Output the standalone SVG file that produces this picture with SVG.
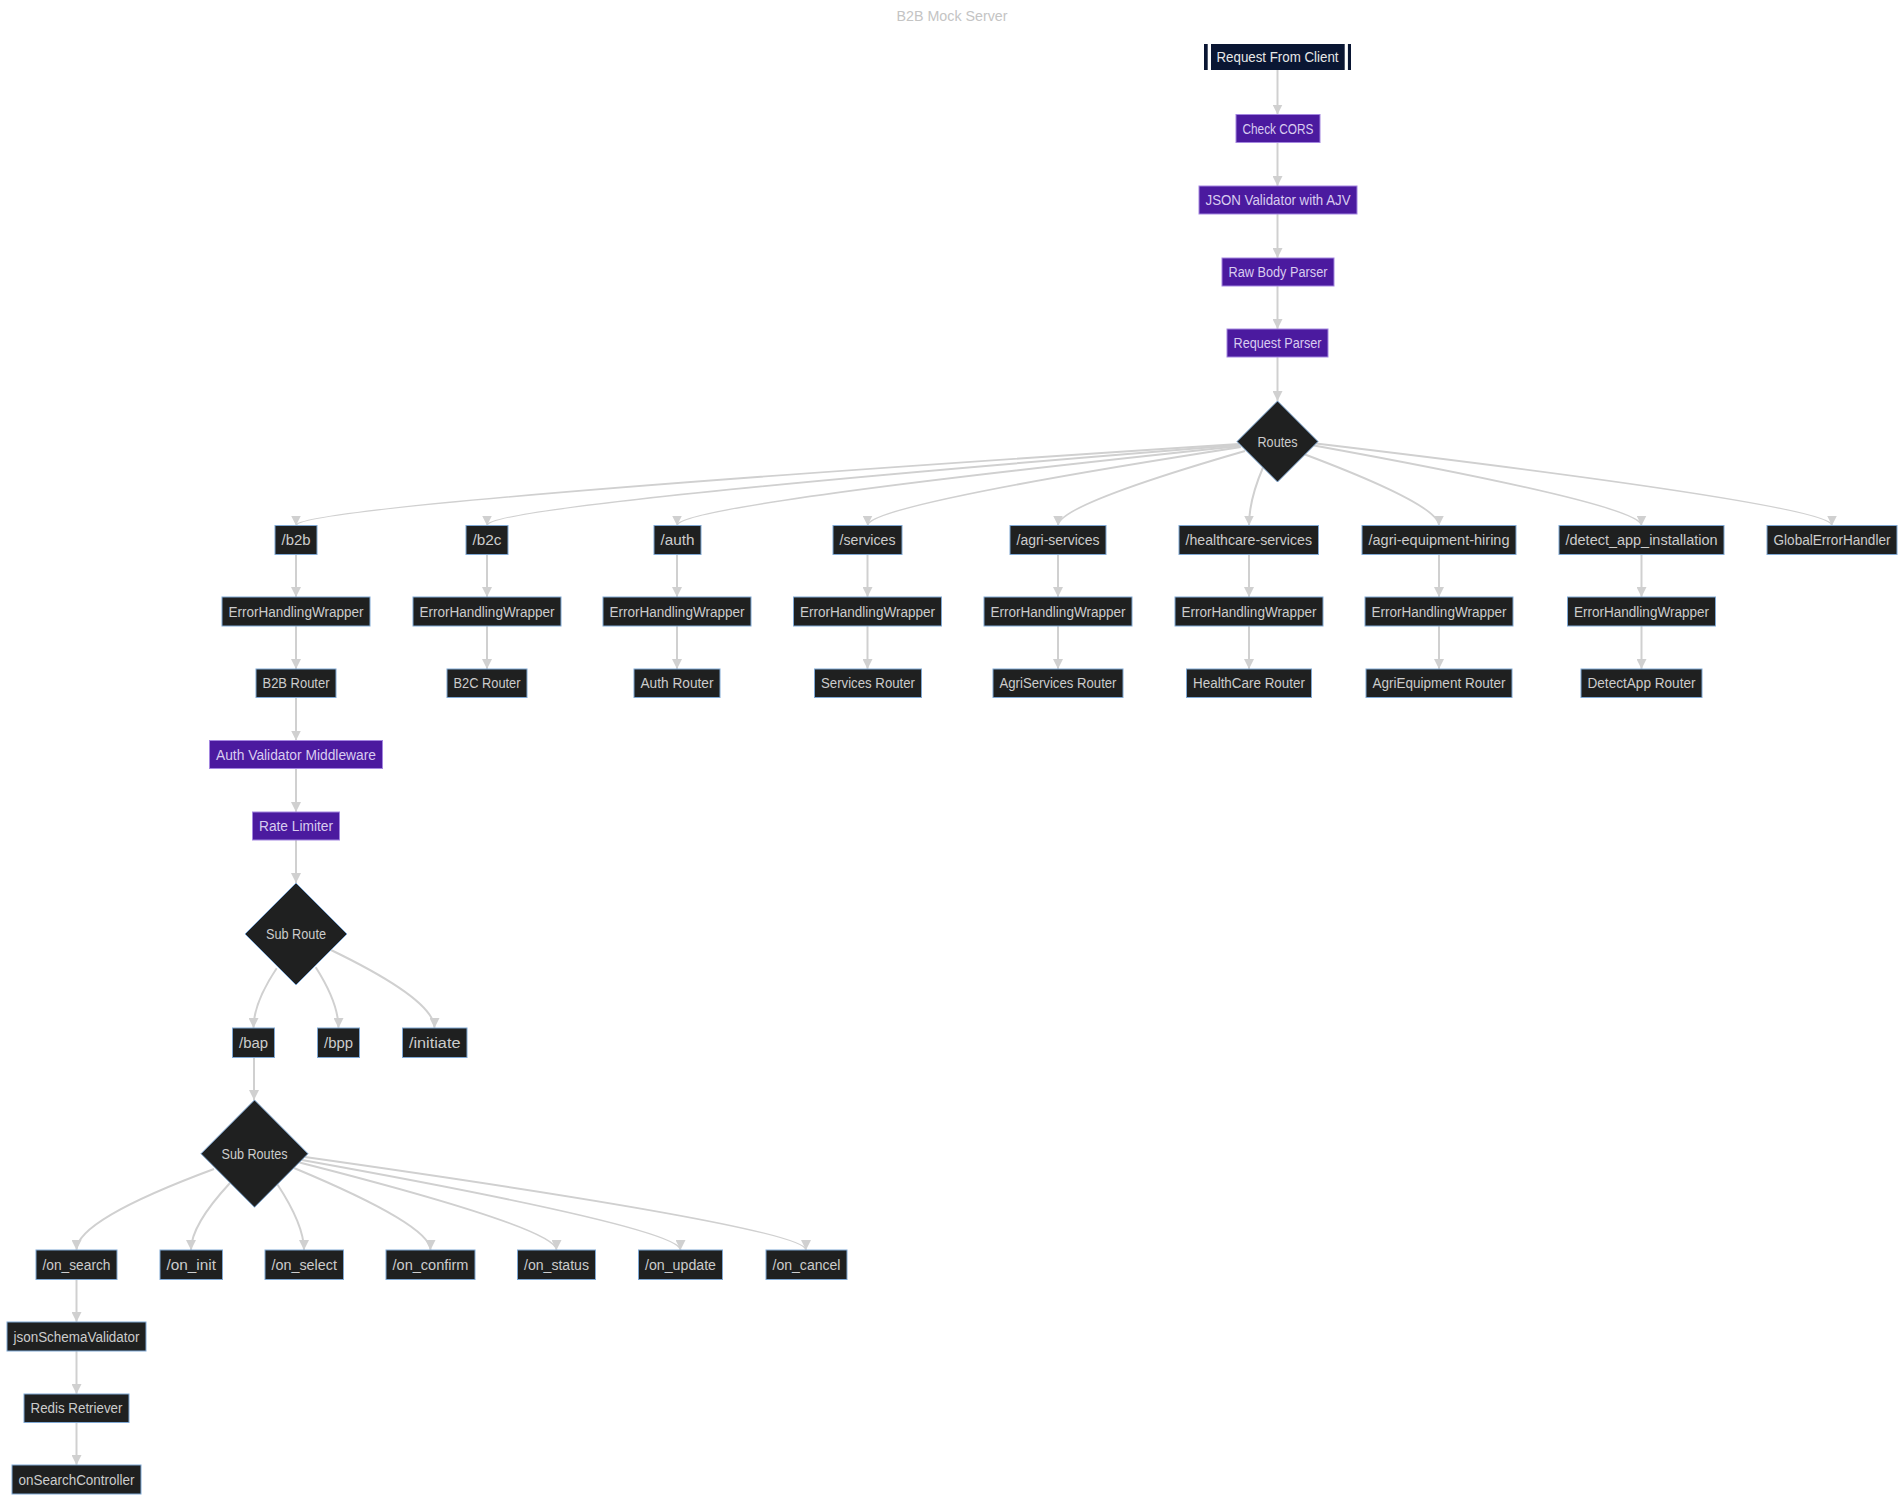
<svg xmlns="http://www.w3.org/2000/svg" width="1904" height="1501" viewBox="0 0 1904 1501">
<style>
text{font-family:"Liberation Sans",Arial,sans-serif;font-size:14px;text-anchor:middle}
.title{fill:#c4c4c4}
.d rect,.d polygon{fill:#1f2020;stroke:#7fa8d4;stroke-width:1}
.d text{fill:#cccccc}
.p rect{fill:#4b1a9f;stroke:#a386e0;stroke-width:1}
.p text{fill:#d9ccf0}
.e{fill:none;stroke:#d0d0d0;stroke-width:2;marker-end:url(#arr)}
</style>
<defs>
<marker id="arr" viewBox="0 0 10 10" refX="10" refY="5" markerWidth="10" markerHeight="10" markerUnits="userSpaceOnUse" orient="auto">
<path d="M0,0 L10,5 L0,10 z" fill="#d0d0d0"/>
</marker>
</defs>
<rect width="1904" height="1501" fill="#ffffff"/>
<text class="title" x="952" y="20.5" textLength="111" lengthAdjust="spacingAndGlyphs">B2B Mock Server</text>

<g id="edges">
<path class="e" d="M1277.5,70 L1277.5,114.5"/>
<path class="e" d="M1277.5,142 L1277.5,186"/>
<path class="e" d="M1277.5,214 L1277.5,258"/>
<path class="e" d="M1277.5,286 L1277.5,329"/>
<path class="e" d="M1277.5,357 L1277.5,401"/>
<path class="e" d="M1239,444 Q296,505 296,525.5"/>
<path class="e" d="M1239,445 Q487,505 487,525.5"/>
<path class="e" d="M1240,446 Q677,505 677,525.5"/>
<path class="e" d="M1241,447 Q867.5,505 867.5,525.5"/>
<path class="e" d="M1245,451 Q1058,505 1058,525.5"/>
<path class="e" d="M1263,467.5 Q1249,500 1249,525.5"/>
<path class="e" d="M1305,454.5 Q1439,505 1439,525.5"/>
<path class="e" d="M1314,445.5 Q1641.5,505 1641.5,525.5"/>
<path class="e" d="M1316,443.5 Q1832,505 1832,525.5"/>
<path class="e" d="M296,554.5 L296,597"/>
<path class="e" d="M487,554.5 L487,597"/>
<path class="e" d="M677,554.5 L677,597"/>
<path class="e" d="M867.5,554.5 L867.5,597"/>
<path class="e" d="M1058,554.5 L1058,597"/>
<path class="e" d="M1249,554.5 L1249,597"/>
<path class="e" d="M1439,554.5 L1439,597"/>
<path class="e" d="M1641.5,554.5 L1641.5,597"/>
<path class="e" d="M296,626 L296,669"/>
<path class="e" d="M487,626 L487,669"/>
<path class="e" d="M677,626 L677,669"/>
<path class="e" d="M867.5,626 L867.5,669"/>
<path class="e" d="M1058,626 L1058,669"/>
<path class="e" d="M1249,626 L1249,669"/>
<path class="e" d="M1439,626 L1439,669"/>
<path class="e" d="M1641.5,626 L1641.5,669"/>
<path class="e" d="M296,697.5 L296,740.5"/>
<path class="e" d="M296,768.5 L296,812"/>
<path class="e" d="M296,840 L296,883"/>
<path class="e" d="M276.7,968.3 Q253.5,1003 253.5,1028"/>
<path class="e" d="M315.7,967.3 Q338.5,1003 338.5,1028"/>
<path class="e" d="M331,950 Q434.5,1000 434.5,1028"/>
<path class="e" d="M254,1057.5 L254,1100"/>
<path class="e" d="M214,1169 Q76.5,1220 76.5,1250"/>
<path class="e" d="M230,1183 Q191,1225 191,1250"/>
<path class="e" d="M277.5,1184.5 Q304,1225 304,1250"/>
<path class="e" d="M294,1168 Q430.5,1225 430.5,1250"/>
<path class="e" d="M299.5,1162.5 Q556.5,1228 556.5,1250"/>
<path class="e" d="M302,1160 Q680.5,1228 680.5,1250"/>
<path class="e" d="M305,1157 Q806,1228 806,1250"/>
<path class="e" d="M76.5,1279.5 L76.5,1322"/>
<path class="e" d="M76.5,1351 L76.5,1394"/>
<path class="e" d="M76.5,1422.5 L76.5,1465"/>
</g>

<g id="request-from-client">
<rect x="1204" y="44" width="147" height="26" fill="#0a1633"/>
<rect x="1207.7" y="44" width="3.3" height="26" fill="#ffffff"/>
<rect x="1344.7" y="44" width="3.2" height="26" fill="#ffffff"/>
<text x="1277.5" y="62" fill="#e8e8e8" textLength="122" lengthAdjust="spacingAndGlyphs">Request From Client</text>
</g>
<g id="check-cors" class="p"><rect x="1236" y="114.5" width="84" height="28"/><text x="1278" y="133.5" textLength="71" lengthAdjust="spacingAndGlyphs">Check CORS</text></g>
<g id="json-validator" class="p"><rect x="1199" y="186" width="158" height="28"/><text x="1278" y="205" textLength="145" lengthAdjust="spacingAndGlyphs">JSON Validator with AJV</text></g>
<g id="raw-body-parser" class="p"><rect x="1222" y="258" width="112" height="28"/><text x="1278" y="277" textLength="99" lengthAdjust="spacingAndGlyphs">Raw Body Parser</text></g>
<g id="request-parser" class="p"><rect x="1227" y="329" width="101" height="28"/><text x="1277.5" y="348" textLength="88" lengthAdjust="spacingAndGlyphs">Request Parser</text></g>
<g id="routes" class="d"><polygon points="1277.5,401 1318,441.5 1277.5,482 1237,441.5"/><text x="1277.5" y="446.5" textLength="40" lengthAdjust="spacingAndGlyphs">Routes</text></g>

<g id="b2b" class="d"><rect x="275" y="525.5" width="42" height="29"/><text x="296" y="545" textLength="29" lengthAdjust="spacingAndGlyphs">/b2b</text></g>
<g id="b2c" class="d"><rect x="466" y="525.5" width="42" height="29"/><text x="487" y="545" textLength="29" lengthAdjust="spacingAndGlyphs">/b2c</text></g>
<g id="auth" class="d"><rect x="654" y="525.5" width="47" height="29"/><text x="677.5" y="545" textLength="34" lengthAdjust="spacingAndGlyphs">/auth</text></g>
<g id="services" class="d"><rect x="833" y="525.5" width="69" height="29"/><text x="867.5" y="545" textLength="56" lengthAdjust="spacingAndGlyphs">/services</text></g>
<g id="agri-services" class="d"><rect x="1010" y="525.5" width="96" height="29"/><text x="1058" y="545" textLength="83" lengthAdjust="spacingAndGlyphs">/agri-services</text></g>
<g id="healthcare-services" class="d"><rect x="1179" y="525.5" width="139.5" height="29"/><text x="1248.75" y="545" textLength="126.5" lengthAdjust="spacingAndGlyphs">/healthcare-services</text></g>
<g id="agri-equipment-hiring" class="d"><rect x="1362" y="525.5" width="154" height="29"/><text x="1439" y="545" textLength="141" lengthAdjust="spacingAndGlyphs">/agri-equipment-hiring</text></g>
<g id="detect-app-installation" class="d"><rect x="1559" y="525.5" width="165" height="29"/><text x="1641.5" y="545" textLength="152" lengthAdjust="spacingAndGlyphs">/detect_app_installation</text></g>
<g id="global-error-handler" class="d"><rect x="1767" y="525.5" width="130" height="29"/><text x="1832" y="545" textLength="117" lengthAdjust="spacingAndGlyphs">GlobalErrorHandler</text></g>

<g id="ehw-b2b" class="d"><rect x="222" y="597" width="148" height="29"/><text x="296" y="616.5" textLength="135" lengthAdjust="spacingAndGlyphs">ErrorHandlingWrapper</text></g>
<g id="ehw-b2c" class="d"><rect x="413" y="597" width="148" height="29"/><text x="487" y="616.5" textLength="135" lengthAdjust="spacingAndGlyphs">ErrorHandlingWrapper</text></g>
<g id="ehw-auth" class="d"><rect x="603" y="597" width="148" height="29"/><text x="677" y="616.5" textLength="135" lengthAdjust="spacingAndGlyphs">ErrorHandlingWrapper</text></g>
<g id="ehw-services" class="d"><rect x="793.5" y="597" width="148" height="29"/><text x="867.5" y="616.5" textLength="135" lengthAdjust="spacingAndGlyphs">ErrorHandlingWrapper</text></g>
<g id="ehw-agri-services" class="d"><rect x="984" y="597" width="148" height="29"/><text x="1058" y="616.5" textLength="135" lengthAdjust="spacingAndGlyphs">ErrorHandlingWrapper</text></g>
<g id="ehw-healthcare" class="d"><rect x="1175" y="597" width="148" height="29"/><text x="1249" y="616.5" textLength="135" lengthAdjust="spacingAndGlyphs">ErrorHandlingWrapper</text></g>
<g id="ehw-agri-equipment" class="d"><rect x="1365" y="597" width="148" height="29"/><text x="1439" y="616.5" textLength="135" lengthAdjust="spacingAndGlyphs">ErrorHandlingWrapper</text></g>
<g id="ehw-detect" class="d"><rect x="1567.5" y="597" width="148" height="29"/><text x="1641.5" y="616.5" textLength="135" lengthAdjust="spacingAndGlyphs">ErrorHandlingWrapper</text></g>

<g id="b2b-router" class="d"><rect x="256" y="669" width="80" height="28.5"/><text x="296" y="688.3" textLength="67" lengthAdjust="spacingAndGlyphs">B2B Router</text></g>
<g id="b2c-router" class="d"><rect x="447" y="669" width="80" height="28.5"/><text x="487" y="688.3" textLength="67" lengthAdjust="spacingAndGlyphs">B2C Router</text></g>
<g id="auth-router" class="d"><rect x="634" y="669" width="86" height="28.5"/><text x="677" y="688.3" textLength="73" lengthAdjust="spacingAndGlyphs">Auth Router</text></g>
<g id="services-router" class="d"><rect x="814.5" y="669" width="107" height="28.5"/><text x="868" y="688.3" textLength="94" lengthAdjust="spacingAndGlyphs">Services Router</text></g>
<g id="agriservices-router" class="d"><rect x="993" y="669" width="130" height="28.5"/><text x="1058" y="688.3" textLength="117" lengthAdjust="spacingAndGlyphs">AgriServices Router</text></g>
<g id="healthcare-router" class="d"><rect x="1186.5" y="669" width="125" height="28.5"/><text x="1249" y="688.3" textLength="112" lengthAdjust="spacingAndGlyphs">HealthCare Router</text></g>
<g id="agriequipment-router" class="d"><rect x="1366" y="669" width="146" height="28.5"/><text x="1439" y="688.3" textLength="133" lengthAdjust="spacingAndGlyphs">AgriEquipment Router</text></g>
<g id="detectapp-router" class="d"><rect x="1581" y="669" width="121" height="28.5"/><text x="1641.5" y="688.3" textLength="108" lengthAdjust="spacingAndGlyphs">DetectApp Router</text></g>

<g id="auth-validator" class="p"><rect x="209.5" y="740.5" width="173" height="28"/><text x="296" y="759.5" textLength="160" lengthAdjust="spacingAndGlyphs">Auth Validator Middleware</text></g>
<g id="rate-limiter" class="p"><rect x="252.5" y="812" width="87" height="28"/><text x="296" y="831" textLength="74" lengthAdjust="spacingAndGlyphs">Rate Limiter</text></g>
<g id="sub-route" class="d"><polygon points="296,883 347,934 296,985 245,934"/><text x="296" y="939" textLength="60" lengthAdjust="spacingAndGlyphs">Sub Route</text></g>

<g id="bap" class="d"><rect x="232.5" y="1028" width="42" height="29.5"/><text x="253.5" y="1047.7" textLength="29" lengthAdjust="spacingAndGlyphs">/bap</text></g>
<g id="bpp" class="d"><rect x="317.5" y="1028" width="42" height="29.5"/><text x="338.5" y="1047.7" textLength="29" lengthAdjust="spacingAndGlyphs">/bpp</text></g>
<g id="initiate" class="d"><rect x="402.5" y="1028" width="64.5" height="29.5"/><text x="434.7" y="1047.7" textLength="51.5" lengthAdjust="spacingAndGlyphs">/initiate</text></g>

<g id="sub-routes" class="d"><polygon points="254.5,1100 308,1153.7 254.5,1207.3 201,1153.7"/><text x="254.5" y="1158.7" textLength="66" lengthAdjust="spacingAndGlyphs">Sub Routes</text></g>

<g id="on-search" class="d"><rect x="36" y="1250" width="81" height="29.5"/><text x="76.5" y="1269.7" textLength="68" lengthAdjust="spacingAndGlyphs">/on_search</text></g>
<g id="on-init" class="d"><rect x="160" y="1250" width="62.5" height="29.5"/><text x="191.2" y="1269.7" textLength="49.5" lengthAdjust="spacingAndGlyphs">/on_init</text></g>
<g id="on-select" class="d"><rect x="265" y="1250" width="78.5" height="29.5"/><text x="304.2" y="1269.7" textLength="65.5" lengthAdjust="spacingAndGlyphs">/on_select</text></g>
<g id="on-confirm" class="d"><rect x="386" y="1250" width="89" height="29.5"/><text x="430.5" y="1269.7" textLength="76" lengthAdjust="spacingAndGlyphs">/on_confirm</text></g>
<g id="on-status" class="d"><rect x="517.5" y="1250" width="78" height="29.5"/><text x="556.5" y="1269.7" textLength="65" lengthAdjust="spacingAndGlyphs">/on_status</text></g>
<g id="on-update" class="d"><rect x="638.5" y="1250" width="84" height="29.5"/><text x="680.5" y="1269.7" textLength="71" lengthAdjust="spacingAndGlyphs">/on_update</text></g>
<g id="on-cancel" class="d"><rect x="766" y="1250" width="81" height="29.5"/><text x="806.5" y="1269.7" textLength="68" lengthAdjust="spacingAndGlyphs">/on_cancel</text></g>

<g id="json-schema-validator" class="d"><rect x="7" y="1322" width="139" height="29"/><text x="76.5" y="1341.5" textLength="126" lengthAdjust="spacingAndGlyphs">jsonSchemaValidator</text></g>
<g id="redis-retriever" class="d"><rect x="24" y="1394" width="105" height="28.5"/><text x="76.5" y="1413.3" textLength="92" lengthAdjust="spacingAndGlyphs">Redis Retriever</text></g>
<g id="on-search-controller" class="d"><rect x="12" y="1465" width="129" height="29"/><text x="76.5" y="1484.5" textLength="116" lengthAdjust="spacingAndGlyphs">onSearchController</text></g>
</svg>
